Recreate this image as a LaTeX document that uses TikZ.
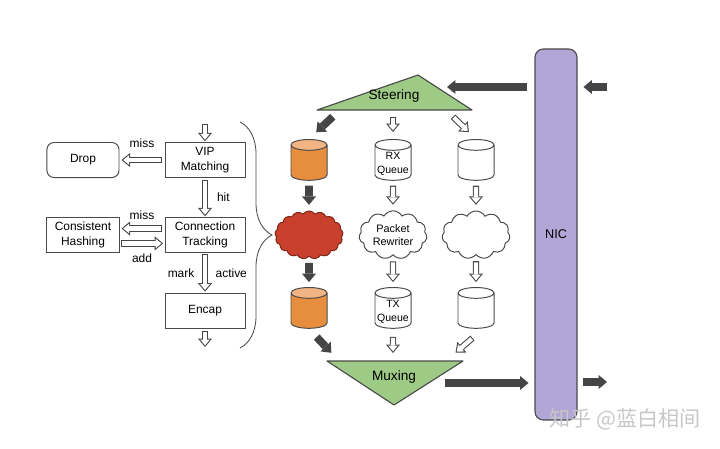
\documentclass[tikz,border=0pt]{standalone}
\usepackage{fontspec}
\setmainfont{Liberation Sans}
\newfontfamily\cjkfont{Noto Sans CJK SC}
\usepackage{xcolor}
\usetikzlibrary{shapes.geometric}
\usetikzlibrary{shapes.symbols}
\usetikzlibrary{arrows.meta}
\usetikzlibrary{decorations.pathreplacing}
\usetikzlibrary{positioning}

\definecolor{arrowgray}{HTML}{454545}
\definecolor{linegray}{HTML}{4A4A4A}
\definecolor{steergreen}{HTML}{9DCB85}
\definecolor{nicpurple}{HTML}{B2A6D7}
\definecolor{cylorange}{HTML}{E78E3E}
\definecolor{cyltop}{HTML}{F2B482}
\definecolor{cloudred}{HTML}{C9402C}
\definecolor{cloudedge}{HTML}{7E2618}

\begin{document}
\begin{tikzpicture}[x=0.025cm,y=-0.025cm,
	box/.style={rectangle, draw=linegray, line width=0.7pt, minimum width=2cm, minimum height=0.875cm, align=center, inner sep=1pt, font=\fontsize{8.5}{10.6}\selectfont},
	queue/.style={cylinder, shape border rotate=90, aspect=0.3, draw=linegray, line width=0.7pt, text width=0.8cm, inner xsep=0.05cm, inner ysep=0pt, minimum height=1.02cm, align=center, anchor=north, font=\fontsize{7.5}{9.6}\selectfont},
	oqueue/.style={queue, cylinder uses custom fill, cylinder body fill=cylorange, cylinder end fill=cyltop},
	blob/.style={cloud, cloud puffs=11, cloud puff arc=120, aspect=1.4, draw=linegray, line width=0.7pt, minimum width=1.7cm, minimum height=1.2cm, inner sep=0pt, align=center, font=\fontsize{7.7}{9.6}\selectfont},
	harrow/.style 2 args={draw=arrowgray, line width=4.5pt, shorten <=#1, shorten >=#2, -{Triangle[length=6pt,width=10pt,line width=0pt]},
		postaction={draw=white, line width=3pt, shorten <=#1+0.75pt, shorten >=#2+1.17pt, -{Triangle[length=4.1pt,width=6.8pt,line width=0pt]}}},
	darrow/.style={draw=arrowgray, line width=5.5pt, -{Triangle[length=6pt,width=10pt,line width=0pt]}},
	lbl/.style={font=\fontsize{8.5}{10}\selectfont}]
	\useasboundingbox (0,0) rectangle (720,448);
	
	% Nodes
	\node[box] (vip) at (205,160) {VIP\\Matching};
	\node[box, rounded corners=5pt, minimum width=1.8cm] (drop) [left=1.125cm of vip] {Drop};
	\node[box] (ct) [below=0.975cm of vip] {Connection\\Tracking};
	\node[box, minimum width=1.8cm] (ch) [left=1.125cm of ct] {Consistent\\Hashing};
	\node[box] (encap) [below=1cm of ct] {Encap};
	\coordinate (in) at (205,124);
	\coordinate (out) at (205,347);
	
	\path
	(in) edge[harrow={0pt}{0.5pt}] (vip)
	(vip)
	edge[harrow={1.5pt}{0.5pt}] node[lbl, right=3pt] {hit} (ct)
	edge[harrow={1.5pt}{1.5pt}] node[lbl, above=3pt] {miss} (drop)
	([yshift=4.6pt]ct.west) edge[harrow={1.5pt}{1.5pt}] node[lbl, above=1pt] {miss} ([yshift=4.6pt]ch.east)
	([yshift=-6pt]ch.east) edge[harrow={1pt}{1pt}] node[lbl, below=2pt] {add} ([yshift=-6pt]ct.west)
	(ct) edge[harrow={1pt}{1pt}] node[lbl, left=2pt] {mark} node[lbl, right=2pt] {active} (encap)
	(encap) edge[harrow={1.5pt}{0pt}] (out);
	
	% brace
	\coordinate (bt) at (240,122);
	\coordinate (bb) at (240,348);
	\draw[linegray, line width=0.6pt, decorate, decoration={brace, amplitude=0.8cm}] (bt) -- (bb);
	
	% Steering and Muxing
	\coordinate (stl) at (317,110);
	\coordinate (sta) at (418,75);
	\coordinate (str) at (472,110);
	\filldraw[fill=steergreen, draw=linegray, line width=0.8pt, line join=round] (stl) -- (sta) -- (str) -- cycle;
	\node[font=\fontsize{9.7}{11}\selectfont] (steer) at (394,96) {Steering};
	
	\coordinate (mxl) at (327,361);
	\coordinate (mxr) at (463,361);
	\coordinate (mxb) at (394,405);
	\filldraw[fill=steergreen, draw=linegray, line width=0.8pt, line join=round] (mxl) -- (mxr) -- (mxb) -- cycle;
	\node[font=\fontsize{9.7}{11}\selectfont] (mux) at (394,377) {Muxing};
	
	% Queues and clouds
	\node[oqueue] (q1) at (309,139) {};
	\node[queue] (rxq) at (393,139) {RX\\Queue};
	\node[queue] (q3) at (476,139) {};
	\node[blob, fill=cloudred, draw=cloudedge, cloud puffs=17, cloud puff arc=110] (c1) at (309,235) {};
	\node[blob, fill=white] (rew) at (393,235) {Packet\\Rewriter};
	\node[blob, fill=white] (c3) at (476,235) {};
	\node[oqueue] (q4) at (309,287) {};
	\node[queue] (txq) at (393,287) {TX\\Queue};
	\node[queue] (q6) at (476,287) {};
	
	% NIC
	\node[draw=linegray, line width=0.8pt, fill=nicpurple, rounded corners=6pt, minimum width=1.05cm, minimum height=9.275cm, font=\fontsize{9}{11}\selectfont] (nic) at (556,234.5) {NIC};
	
	\coordinate (sl) at (340,110);
	\coordinate (sm) at (393,110);
	\coordinate (sr) at (446,110);
	\coordinate (ml) at (339,361);
	\coordinate (mm) at (393,361);
	\coordinate (mr) at (446,361);
	\coordinate (mo) at (445,383);
	\coordinate (si) at (447,87);
	\coordinate (ri) at (607,87);
	\coordinate (ro) at (607,382);
	
	\path
	(sl) edge[darrow, shorten <=7pt, shorten >=7pt] (q1.north)
	(sm) edge[harrow={5pt}{5pt}] (rxq.north)
	(sr) edge[harrow={7pt}{7pt}] (q3.north)
	
	(q1) edge[darrow, shorten <=3.5pt, shorten >=4pt] (c1)
	(rxq) edge[harrow={3.5pt}{4pt}] (rew)
	(q3) edge[harrow={3.5pt}{4pt}] (c3)
	
	(c1) edge[darrow, shorten <=4.2pt, shorten >=3.5pt] (q4)
	(rew) edge[harrow={4.2pt}{3.5pt}] (txq)
	(c3) edge[harrow={4.2pt}{3.5pt}] (q6)
	
	(q4.south) edge[darrow, shorten <=8pt, shorten >=8pt] (ml)
	(txq.south) edge[harrow={5.7pt}{5.7pt}] (mm)
	([xshift=5pt]q6.south) edge[harrow={10pt}{9pt}] (mr)
	
	(mo) edge[darrow, shorten >=4.2pt] (nic.west |- mo)
	(nic.west |- si) edge[darrow, shorten <=5pt] (si)
	(ri) edge[darrow, shorten >=4.2pt] (nic.east |- ri)
	(nic.east |- ro) edge[darrow, shorten <=4.2pt] (ro);
	
	\node[font=\cjkfont\fontsize{15}{18}\selectfont, text=black!22] (wm) at (625,419) {知乎 @蓝白相间};
	
\end{tikzpicture}
\end{document}
